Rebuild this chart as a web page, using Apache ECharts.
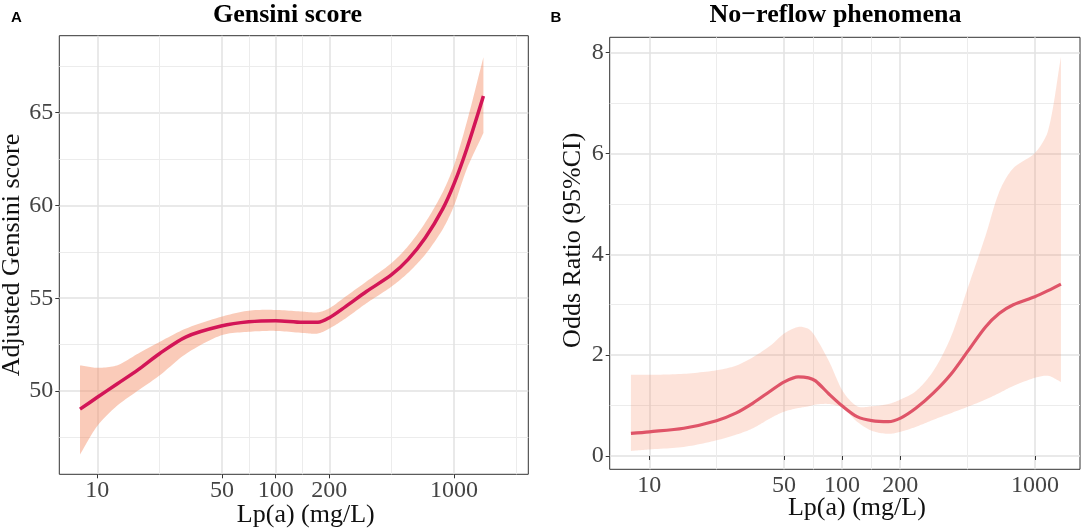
<!DOCTYPE html>
<html><head><meta charset="utf-8">
<script src="https://cdn.jsdelivr.net/npm/echarts@6/dist/echarts.min.js"></script>
<style>html,body{margin:0;padding:0;background:#fff}#c{width:1084px;height:529px}</style>
</head><body><div id="c"></div>
<script>
// ---- data ----
const xTickLabels = [10, 50, 100, 200, 1000];
const xBreaksAll = [10, 50, 100, 200, 1000, 5000];
const yTicksA = [50, 55, 60, 65];
const yMinorA = [47.5, 52.5, 57.5, 62.5, 67.5];
const yTicksB = [0, 2, 4, 6, 8];
const yMinorB = [1, 3, 5, 7];

const lpaA = [8.0, 10, 12.9, 16.9, 22.3, 31.5, 49.5, 70.6, 100, 141.6, 172.6, 200, 246.6, 322.8, 446.7, 551.6, 690.5, 863, 1000, 1180, 1462];
const gensiniFit = [49.02, 49.66, 50.38, 51.14, 52.01, 52.92, 53.5, 53.73, 53.79, 53.7, 53.7, 53.95, 54.55, 55.36, 56.27, 57.08, 58.26, 59.8, 61.16, 63.06, 65.9];
const gensiniUpper = [51.38, 51.25, 51.38, 52.01, 52.64, 53.37, 54.0, 54.33, 54.37, 54.28, 54.24, 54.46, 55.09, 55.9, 56.9, 57.8, 59.08, 60.7, 62.16, 64.5, 67.99];
const gensiniLower = [46.58, 48.12, 49.2, 50.02, 50.83, 52.01, 53.0, 53.19, 53.24, 53.13, 53.1, 53.37, 53.91, 54.73, 55.63, 56.36, 57.36, 58.71, 59.98, 61.97, 63.9];

const lpaB = [8.03, 10, 15.1, 22.3, 28.1, 34.5, 42.5, 50.1, 59.2, 67.0, 72.8, 86.0, 100.7, 119.6, 142.5, 173.8, 200.9, 242, 297.9, 366.7, 451, 554.6, 654.6, 772.6, 1000, 1170, 1365];
const orFit = [0.449, 0.48, 0.55, 0.70, 0.85, 1.05, 1.29, 1.47, 1.57, 1.55, 1.49, 1.22, 0.985, 0.78, 0.70, 0.68, 0.75, 0.95, 1.25, 1.62, 2.09, 2.56, 2.83, 3.0, 3.16, 3.28, 3.41];
const orUpper = [1.61, 1.61, 1.63, 1.70, 1.79, 1.96, 2.19, 2.43, 2.56, 2.52, 2.36, 1.86, 1.29, 0.985, 0.985, 1.03, 1.12, 1.29, 1.69, 2.36, 3.36, 4.37, 5.25, 5.71, 6.01, 6.45, 7.92];
const orLower = [0.10, 0.13, 0.18, 0.31, 0.42, 0.55, 0.75, 0.88, 0.95, 0.985, 1.02, 1.03, 0.95, 0.68, 0.50, 0.44, 0.48, 0.58, 0.72, 0.85, 0.98, 1.12, 1.25, 1.39, 1.55, 1.59, 1.47];

// ---- build ----
const SERIF = 'Liberation Serif';
const SMOOTH = 0.3;
const lg = v => Math.log10(v);
const majorX = xTickLabels.map(lg);
const logBreaks = xBreaksAll.map(lg);
const minorX = [];
for (let i = 0; i < logBreaks.length - 1; i++) minorX.push((logBreaks[i] + logBreaks[i + 1]) / 2);

const majorLine = {color: '#e2e2e2', width: 1.5};
const minorLine = {color: '#ececec', width: 1};

function xAxes(grid, min, max, gap) {
  return [{
    type: 'value', gridIndex: grid, min: min, max: max, position: 'bottom',
    axisLine: {show: false},
    axisTick: {show: true, length: 4, lineStyle: {color: '#333', width: 1}, customValues: majorX},
    axisLabel: {customValues: majorX, formatter: v => String(Math.round(Math.pow(10, v))),
      fontFamily: SERIF, fontSize: 24, color: '#444', margin: 4},
    splitLine: {show: true, lineStyle: majorLine},
    name: 'Lp(a) (mg/L)', nameLocation: 'middle', nameGap: gap, nameMoveOverlap: false,
    nameTextStyle: {fontFamily: SERIF, fontSize: 26, color: '#111', padding: [0, 0, 0, 24]}
  }, {
    type: 'value', gridIndex: grid, min: min, max: max, position: 'top',
    axisLine: {show: false}, axisTick: {show: false, customValues: minorX},
    axisLabel: {show: false}, splitLine: {show: true, lineStyle: minorLine}
  }];
}
function yAxes(grid, min, max, ticks, minor, name, gap, pad) {
  return [{
    type: 'value', gridIndex: grid, min: min, max: max, position: 'left',
    axisLine: {show: false},
    axisTick: {show: true, length: 4, lineStyle: {color: '#333', width: 1}, customValues: ticks},
    axisLabel: {customValues: ticks, fontFamily: SERIF, fontSize: 24, color: '#444', margin: 6},
    splitLine: {show: true, lineStyle: majorLine},
    name: name, nameLocation: 'middle', nameGap: gap,
    nameTextStyle: {fontFamily: SERIF, fontSize: 26, color: '#111', padding: [0, 0, 0, pad]}
  }, {
    type: 'value', gridIndex: grid, min: min, max: max, position: 'right',
    axisLine: {show: false}, axisTick: {show: false, customValues: minor},
    axisLabel: {show: false}, splitLine: {show: true, lineStyle: minorLine}
  }];
}

// smooth a pixel polyline the same way a smoothed line series does, sampled for a polygon outline
function smoothSample(pts, smooth) {
  const n = pts.length, cps = [];
  for (let i = 0; i < n; i++) {
    const p = pts[i], prev = pts[i - 1] || p, next = pts[i + 1] || p;
    const vx = next[0] - prev[0], vy = next[1] - prev[1];
    const l0 = Math.hypot(p[0] - prev[0], p[1] - prev[1]);
    const l1 = Math.hypot(next[0] - p[0], next[1] - p[1]);
    const r = (l0 + l1) > 0 ? l1 / (l0 + l1) : 0.5;
    cps.push([[p[0] - vx * smooth * (1 - r), p[1] - vy * smooth * (1 - r)],
              [p[0] + vx * smooth * r, p[1] + vy * smooth * r]]);
  }
  const out = [pts[0]];
  for (let i = 0; i < n - 1; i++) {
    const p0 = pts[i], c1 = cps[i][1], c2 = cps[i + 1][0], p1 = pts[i + 1];
    for (let k = 1; k <= 12; k++) {
      const t = k / 12, u = 1 - t;
      out.push([
        u * u * u * p0[0] + 3 * u * u * t * c1[0] + 3 * u * t * t * c2[0] + t * t * t * p1[0],
        u * u * u * p0[1] + 3 * u * u * t * c1[1] + 3 * u * t * t * c2[1] + t * t * t * p1[1]
      ]);
    }
  }
  return out;
}

function bandSeries(xi, yi, xs, lower, upper, color) {
  return {
    type: 'custom', xAxisIndex: xi, yAxisIndex: yi, silent: true, clip: true, z: 1,
    data: [0],
    renderItem: function (params, api) {
      const up = xs.map((x, i) => api.coord([lg(x), upper[i]]));
      const lo = xs.map((x, i) => api.coord([lg(x), lower[i]])).reverse();
      const pts = smoothSample(up, SMOOTH).concat(smoothSample(lo, SMOOTH));
      return {type: 'polygon', shape: {points: pts}, style: {fill: color, stroke: null}};
    }
  };
}

const option = {
  animation: false,
  backgroundColor: '#fff',
  title: [
    {text: 'Gensini score', left: 287.5, top: 2, textAlign: 'center', padding: 0,
     textStyle: {fontFamily: SERIF, fontSize: 26, fontWeight: 'bold', color: '#000'}},
    {text: 'No\u2212reflow phenomena', left: 835.5, top: 2, textAlign: 'center', padding: 0,
     textStyle: {fontFamily: SERIF, fontSize: 26, fontWeight: 'bold', color: '#000'}},
    {text: 'A', left: 11, top: 10, padding: 0, textStyle: {fontFamily: 'Liberation Sans', fontSize: 15, fontWeight: 'bold', color: '#000'}},
    {text: 'B', left: 550.5, top: 10, padding: 0, textStyle: {fontFamily: 'Liberation Sans', fontSize: 15, fontWeight: 'bold', color: '#000'}}
  ],
  grid: [
    {left: 59.3, top: 35.7, width: 469, height: 438.6, outerBoundsMode: 'none', containLabel: false,
     show: true, borderColor: '#333', borderWidth: 1, backgroundColor: 'transparent'},
    {left: 609.7, top: 37.3, width: 470.3, height: 432, outerBoundsMode: 'none', containLabel: false,
     show: true, borderColor: '#333', borderWidth: 1, backgroundColor: 'transparent'}
  ],
  xAxis: [].concat(xAxes(0, 0.787, 3.4166, 27.5), xAxes(1, 0.7946, 3.234, 26)),
  yAxis: [].concat(
    yAxes(0, 45.51, 69.15, yTicksA, yMinorA, 'Adjusted Gensini score', 33, 0),
    yAxes(1, -0.264, 8.305, yTicksB, yMinorB, 'Odds Ratio (95%CI)', 24, 26)
  ),
  series: [
    bandSeries(0, 0, lpaA, gensiniLower, gensiniUpper, 'rgba(245,140,100,0.45)'),
    {
      type: 'line', xAxisIndex: 0, yAxisIndex: 0, symbol: 'none', smooth: SMOOTH, z: 3,
      lineStyle: {color: '#d31557', width: 3.5},
      data: lpaA.map((x, i) => [lg(x), gensiniFit[i]])
    },
    bandSeries(2, 2, lpaB, orLower, orUpper, 'rgba(245,140,100,0.24)'),
    {
      type: 'line', xAxisIndex: 2, yAxisIndex: 2, symbol: 'none', smooth: SMOOTH, z: 3,
      lineStyle: {color: '#df5468', width: 3.2},
      data: lpaB.map((x, i) => [lg(x), orFit[i]])
    }
  ]
};
const chart = echarts.init(document.getElementById('c'), null, {renderer: 'canvas'});
chart.setOption(option);
</script></body></html>
